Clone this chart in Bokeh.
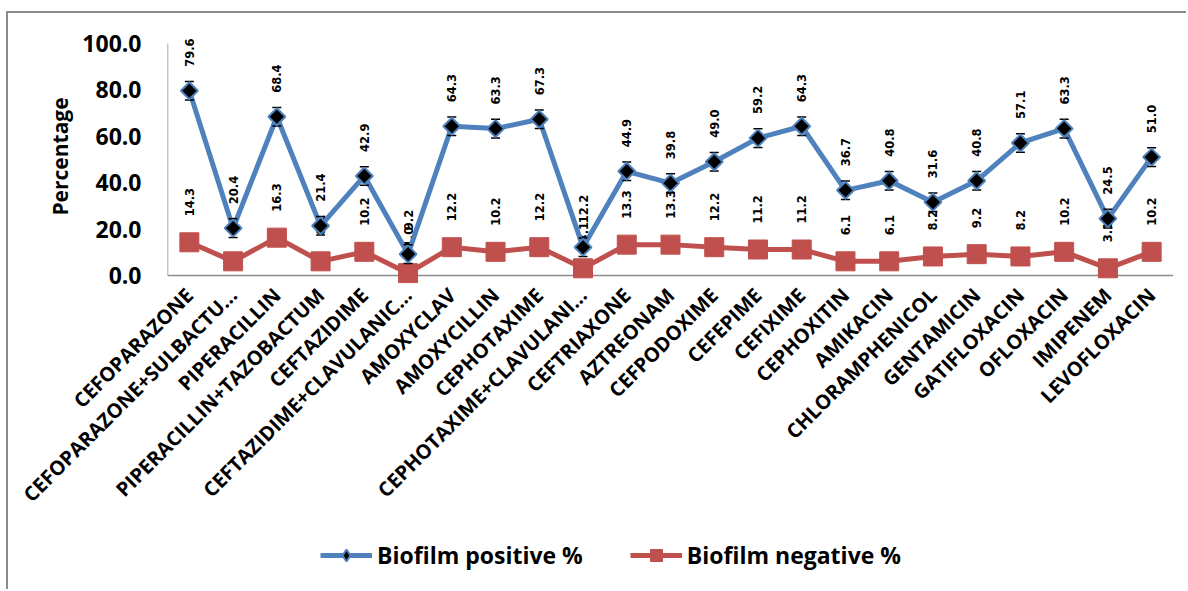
import math

from bokeh.core.properties import value
from bokeh.embed import file_html
from bokeh.layouts import column
from bokeh.models import (ColumnDataSource, FixedTicker, Legend, LegendItem,
                          PrintfTickFormatter, Range1d)
from bokeh.plotting import figure
from bokeh.resources import INLINE

# Antibiotics tested (labels as shown on the category axis)
drugs = [
    "CEFOPARAZONE", "CEFOPARAZONE+SULBACTU...", "PIPERACILLIN",
    "PIPERACILLIN+TAZOBACTUM", "CEFTAZIDIME", "CEFTAZIDIME+CLAVULANIC...",
    "AMOXYCLAV", "AMOXYCILLIN", "CEPHOTAXIME", "CEPHOTAXIME+CLAVULANI...",
    "CEFTRIAXONE", "AZTREONAM", "CEFPODOXIME", "CEFEPIME", "CEFIXIME",
    "CEPHOXITIN", "AMIKACIN", "CHLORAMPHENICOL", "GENTAMICIN",
    "GATIFLOXACIN", "OFLOXACIN", "IMIPENEM", "LEVOFLOXACIN",
]

# Resistance (%) among biofilm producers and non-producers
biofilm_positive = [79.6, 20.4, 68.4, 21.4, 42.9, 9.2, 64.3, 63.3, 67.3, 12.2,
                    44.9, 39.8, 49.0, 59.2, 64.3, 36.7, 40.8, 31.6, 40.8, 57.1,
                    63.3, 24.5, 51.0]
biofilm_negative = [14.3, 6.1, 16.3, 6.1, 10.2, 1.0, 12.2, 10.2, 12.2, 3.1,
                    13.3, 13.3, 12.2, 11.2, 11.2, 6.1, 6.1, 8.2, 9.2, 8.2,
                    10.2, 3.1, 10.2]
positive_error = 4.0

y_ticks = [0, 20, 40, 60, 80, 100]
series_names = ["Biofilm positive %", "Biofilm negative %"]

BLUE = "#4F81BD"
RED = "#C0504D"
AXIS_GREY = "#8C8C8C"
FONT = "Open Sans"
BORDER = f"2px solid {AXIS_GREY}"

idx = list(range(len(drugs)))
src = ColumnDataSource(dict(
    x=idx,
    pos=biofilm_positive,
    neg=biofilm_negative,
    pos_lbl=[f"{v:.1f}" for v in biofilm_positive],
    neg_lbl=[f"{v:.1f}" for v in biofilm_negative],
    lo=[v - positive_error for v in biofilm_positive],
    hi=[v + positive_error for v in biofilm_positive],
))

# ---------------- main chart ----------------
p = figure(
    width=1180, height=510,
    output_backend="svg", toolbar_location=None,
    x_range=Range1d(-0.5, len(drugs) - 0.5),
    y_range=Range1d(-3.45, 106),
    min_border_left=159, min_border_right=15,
    min_border_top=16, min_border_bottom=240,
)
p.styles = {"margin-left": "6px", "margin-top": "11px",
            "border-left": BORDER, "border-top": BORDER}
p.outline_line_color = None
p.xgrid.visible = False
p.ygrid.visible = False
p.background_fill_color = "white"
p.border_fill_color = "white"

yax = p.yaxis[0]
yax.ticker = FixedTicker(ticks=y_ticks)
yax.formatter = PrintfTickFormatter(format="%.1f")
yax.axis_line_color = None
yax.major_tick_line_color = None
yax.minor_tick_line_color = None
yax.major_label_standoff = 20
yax.major_label_text_font = FONT
yax.major_label_text_font_style = "bold"
yax.major_label_text_font_size = "23px"
yax.major_label_text_color = "black"
yax.axis_label = "Percentage"
yax.axis_label_text_font = FONT
yax.axis_label_text_font_style = "bold"
yax.axis_label_text_font_size = "21px"
yax.axis_label_text_color = "black"
yax.axis_label_standoff = 5

xax = p.xaxis[0]
xax.ticker = FixedTicker(ticks=idx)
xax.major_label_overrides = {i: d for i, d in enumerate(drugs)}
xax.major_label_orientation = math.pi / 4
xax.axis_line_color = None
xax.major_tick_line_color = None
xax.minor_tick_line_color = None
xax.major_label_standoff = 2
xax.major_label_text_font = FONT
xax.major_label_text_font_style = "bold"
xax.major_label_text_font_size = "20px"
xax.major_label_text_color = "black"

# axis lines at the data origin
p.segment(x0=[-0.5], y0=[0], x1=[len(drugs) - 0.5], y1=[0],
          line_color=AXIS_GREY, line_width=1.5)
p.segment(x0=[-0.5], y0=[0], x1=[-0.5], y1=[y_ticks[-1]],
          line_color=AXIS_GREY, line_width=1.5)

# biofilm negative series
p.line("x", "neg", source=src, line_color=RED, line_width=5)
p.scatter("x", "neg", source=src, marker="square", size=19,
          fill_color=RED, line_color=RED, line_width=1)

# value labels, rotated and set just above each marker
label_style = dict(angle=math.pi / 2, text_align="left", text_baseline="middle",
                   text_font=value("DejaVu Sans"), text_font_style="bold",
                   text_font_size="11.5px", text_color="black")
p.text("x", "neg", text="neg_lbl", source=src, y_offset=-26, **label_style)
p.text("x", "pos", text="pos_lbl", source=src, y_offset=-24, **label_style)

# biofilm positive series with error bars
p.line("x", "pos", source=src, line_color=BLUE, line_width=5)
p.segment(x0="x", y0="lo", x1="x", y1="hi", source=src,
          line_color="black", line_width=1.5)
p.scatter("x", "hi", source=src, marker="dash", size=9,
          line_color="black", line_width=1.5)
p.scatter("x", "lo", source=src, marker="dash", size=9,
          line_color="black", line_width=1.5)
p.scatter("x", "pos", source=src, marker="square", angle=math.pi / 4,
          size=12, fill_color="black", line_color=BLUE, line_width=2)

# ---------------- legend strip ----------------
# The strip's ranges sit below the data, so its series renderers only
# contribute their legend swatches.
leg = figure(
    width=1180, height=68,
    output_backend="svg", toolbar_location=None,
    x_range=Range1d(-0.5, len(drugs) - 0.5), y_range=Range1d(-20, -10),
    min_border=0,
)
leg.styles = {"margin-left": "6px", "border-left": BORDER}
leg.axis.visible = False
leg.xgrid.visible = False
leg.ygrid.visible = False
leg.outline_line_color = None
leg.background_fill_color = "white"
leg.border_fill_color = "white"

lp = leg.line("x", "pos", source=src, line_color=BLUE, line_width=5)
mp = leg.scatter("x", "pos", source=src, marker="diamond", size=18,
                 fill_color="black", line_color=BLUE, line_width=2)
ln = leg.line("x", "neg", source=src, line_color=RED, line_width=5)
mn = leg.scatter("x", "neg", source=src, marker="square", size=14,
                 fill_color=RED, line_color=RED, line_width=1)

legend = Legend(
    items=[
        LegendItem(label=series_names[0], renderers=[lp, mp]),
        LegendItem(label=series_names[1], renderers=[ln, mn]),
    ],
    orientation="horizontal",
    location=(153, 18),
    glyph_width=52, glyph_height=30,
    label_standoff=5, spacing=47, padding=0, margin=0,
    border_line_color=None, background_fill_alpha=0,
    label_text_font=FONT, label_text_font_style="bold",
    label_text_font_size="23px", label_text_color="black",
)
leg.add_layout(legend, "center")

layout = column(p, leg, spacing=0)
open("out.html", "w").write(file_html(layout, INLINE))
